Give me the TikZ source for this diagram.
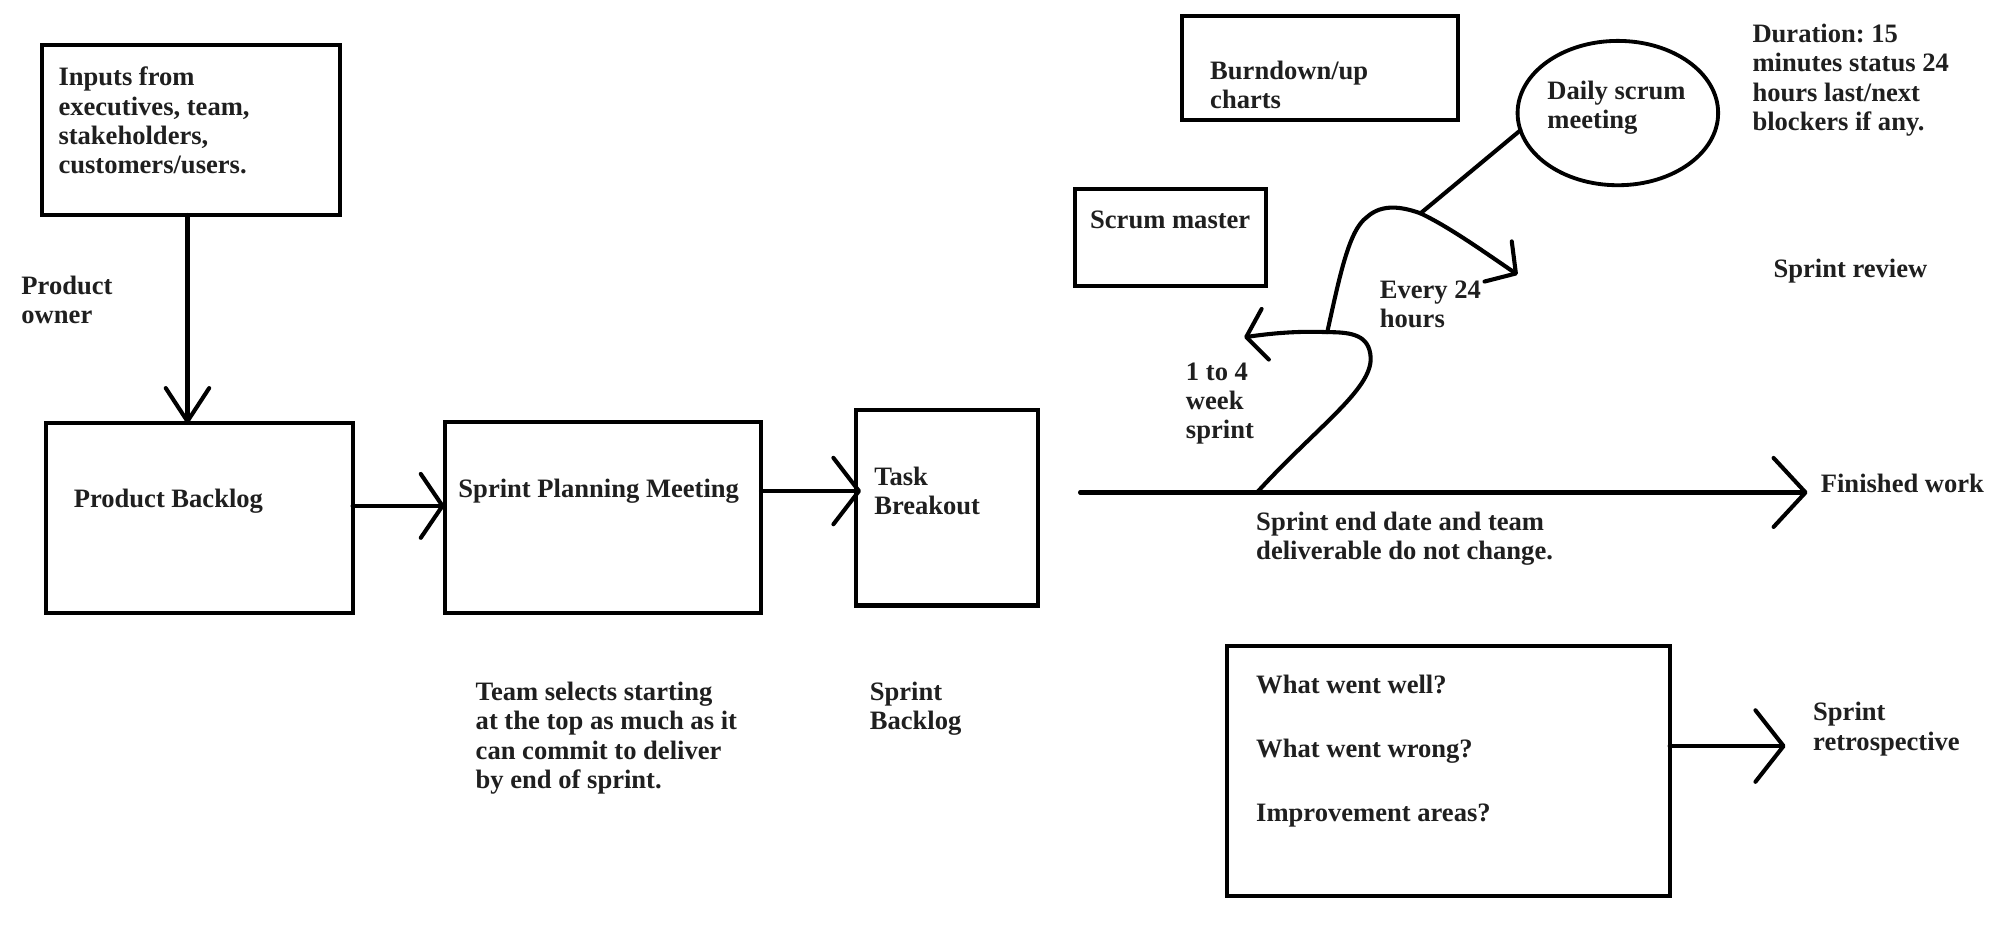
\documentclass[tikz,border=0pt]{standalone}
\usepackage{fontspec}
\setmainfont{Liberation Serif}
\usetikzlibrary{arrows.meta,shapes.geometric}
\frenchspacing
\tikzset{
  ln/.style={line width=1.6pt, line cap=round, line join=round},
  vhead/.style 2 args={-{Straight Barb[length=#1,width=#2,round]}},
  box/.style={draw, line width=1.6pt, inner sep=0pt, outer sep=0pt},
  txt/.style={anchor=north west, inner sep=0pt, align=left, text=black!88, yshift=-0.75pt,
    font=\fontsize{10.4pt}{11.5pt}\selectfont\bfseries\frenchspacing}
}
\begin{document}
\begin{tikzpicture}[x=0.5pt,y=-0.5pt]
\useasboundingbox (0,0) rectangle (1568,729.6);
% boxes
\node[box, minimum width=116.55pt, minimum height=66.55pt] (inp) at (149.75,101.75) {};
\node[box, minimum width=120pt, minimum height=74.1pt] (pb) at (156,405.5) {};
\node[box, minimum width=123.85pt, minimum height=74.8pt] (spm) at (471.85,404.8) {};
\node[box, minimum width=71.35pt, minimum height=76.5pt] (tb) at (741.35,397.5) {};
\node[box, minimum width=107.75pt, minimum height=40.75pt] (bd) at (1033.25,53.25) {};
\node[box, minimum width=74.7pt, minimum height=38pt] (sm) at (916.3,186) {};
\node[box, minimum width=173.2pt, minimum height=97.9pt] (retro) at (1133.8,603.6) {};
\node[box, ellipse, line width=1.5pt, minimum width=78.5pt, minimum height=56.5pt] (dsm) at (1266.5,88.5) {};
% texts
\node[txt] (tin) at (45.4,50.5) {Inputs from\\executives, team,\\stakeholders,\\customers/users.};
\node[txt] (tpo) at (16.4,214) {Product\\owner};
\node[txt] (tpb) at (57.4,380.6) {Product Backlog};
\node[txt] (tspm) at (358.5,372.8) {Sprint Planning Meeting};
\node[txt] (ttb) at (684,363.6) {Task\\Breakout};
\node[txt] (tteam) at (372,532) {Team selects starting\\at the top as much as it\\can commit to deliver\\by end of sprint.};
\node[txt] (tsb) at (680.5,532) {Sprint\\Backlog};
\node[txt] (tbd) at (947,45.8) {Burndown/up\\charts};
\node[txt] (tsm) at (853,163) {Scrum master};
\node[txt] (tdsm) at (1211,61.5) {Daily scrum\\meeting};
\node[txt] (tdur) at (1371.5,17) {Duration: 15\\minutes status 24\\hours last/next\\blockers if any.};
\node[txt] (tsr) at (1388,201) {Sprint review};
\node[txt] (tev) at (1079.8,218) {Every 24\\hours};
\node[txt] (t14) at (928,282) {1 to 4\\week\\sprint};
\node[txt] (tfw) at (1425,369) {Finished work};
\node[txt] (tend) at (983,399) {Sprint end date and team\\deliverable do not change.};
\node[txt] (tw1) at (983,526.6) {What went well?};
\node[txt] (tw2) at (983,576.3) {What went wrong?};
\node[txt] (tw3) at (983,627.2) {Improvement areas?};
\node[txt] (trs) at (1419,548) {Sprint\\retrospective};
% connectors
\draw[ln, vhead={13pt}{17pt}] ([xshift=-1.5pt]inp.south) -- ([xshift=-1.5pt]inp.south |- pb.north);
\draw[ln, vhead={8.5pt}{25pt}] ([yshift=4.75pt]pb.east) -- ([yshift=4.75pt]pb.east -| spm.west);
\draw[ln, vhead={10pt}{26pt}, shorten >=-2pt] ([yshift=10.2pt]spm.east) -- ([yshift=10.2pt]spm.east -| tb.west);
\coordinate (tls) at (845.5,385.5);
\draw[ln, vhead={12.5pt}{27pt}, shorten >=5pt] (tls) -- (tls -| tfw.west);
\draw[ln, vhead={11pt}{28pt}, shorten >=10.6pt] ([yshift=9.8pt]retro.east) -- ([yshift=9.8pt]retro.east -| trs.west);
% sprint loop
\coordinate (ls) at (984,385.5);
\coordinate (lj) at (1039,260);
\coordinate (lt) at (974,264);
\coordinate (lh) at (1112,167);
\coordinate (rt) at (1188,215);
\draw[ln, vhead={7.5pt}{20pt}] (ls) .. controls (1030,335) and (1074,305) .. (1073,280)
   .. controls (1072,262) and (1058,260) .. (lj)
   .. controls (1015,259) and (995,261) .. (lt);
\draw[ln] (lj) .. controls (1049,215) and (1056,180) .. (1070,170)
   .. controls (1082,159) and (1098,162) .. (lh);
\draw[ln, vhead={8.4pt}{19pt}] (lh) .. controls (1135,178) and (1160,196) .. (rt);
\draw[ln] (lh) -- (dsm.190);
\end{tikzpicture}
\end{document}
